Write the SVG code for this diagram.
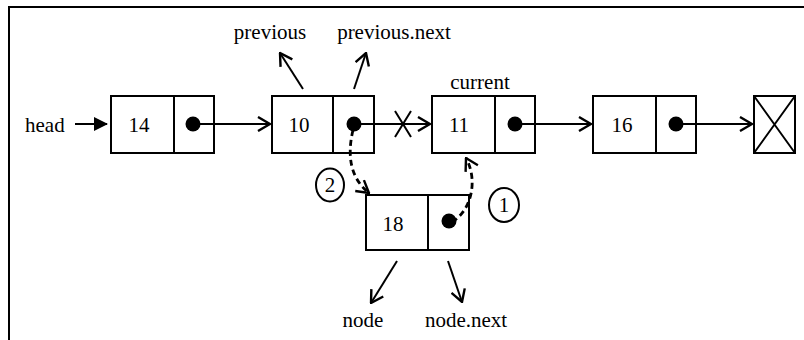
<svg xmlns="http://www.w3.org/2000/svg" width="804" height="340" viewBox="0 0 804 340">
<defs>
<style>
.box{fill:#fff;stroke:#000;stroke-width:2}
.ln{fill:none;stroke:#000;stroke-width:2}
.dash{fill:none;stroke:#000;stroke-width:2.8;stroke-dasharray:6,4}
.t{font-family:"Liberation Serif","Times New Roman",serif;font-size:21px;fill:#000}
.tc{text-anchor:middle}
</style>
<marker id="open" viewBox="0 0 14 16" refX="13" refY="8" markerWidth="14" markerHeight="16" markerUnits="userSpaceOnUse" orient="auto">
<path d="M1,1 L13,8 L1,15" fill="none" stroke="#000" stroke-width="2.4"/>
</marker>
<marker id="fill" viewBox="0 0 14 14" refX="13" refY="7" markerWidth="14" markerHeight="14" markerUnits="userSpaceOnUse" orient="auto">
<path d="M0,0 L14,7 L0,14 Z" fill="#000"/>
</marker>
</defs>
<rect width="804" height="340" fill="#fff"/>
<path d="M9,340 V7 H804" fill="none" stroke="#000" stroke-width="2"/>
<text class="t" x="25" y="132">head</text>
<g id="n14"><rect class="box" x="111" y="96" width="103" height="57"/><line class="ln" x1="174" y1="96" x2="174" y2="153"/><text class="t tc" x="139" y="132">14</text><circle cx="193" cy="124" r="7.5"/></g>
<g id="n10"><rect class="box" x="272" y="96" width="102" height="57"/><line class="ln" x1="333" y1="96" x2="333" y2="153"/><text class="t tc" x="299" y="132">10</text><circle cx="354" cy="124" r="7.5"/></g>
<g id="n11"><rect class="box" x="432" y="96" width="103" height="57"/><line class="ln" x1="495" y1="96" x2="495" y2="153"/><text class="t tc" x="459" y="132">11</text><circle cx="515" cy="124" r="7.5"/></g>
<g id="n16"><rect class="box" x="593" y="96" width="103" height="57"/><line class="ln" x1="656" y1="96" x2="656" y2="153"/><text class="t tc" x="622" y="132">16</text><circle cx="676" cy="124" r="7.5"/></g>
<g id="null"><rect class="box" x="754" y="96" width="41" height="57"/><path class="ln" d="M754,96 L795,153 M795,96 L754,153" stroke-width="1.3"/></g>
<g id="n18"><rect class="box" x="366" y="195" width="103" height="55"/><line class="ln" x1="428" y1="195" x2="428" y2="250"/><text class="t tc" x="393" y="231">18</text><circle cx="449" cy="221" r="7.5"/></g>
<g id="labels">
<text class="t tc" x="270" y="39">previous</text>
<text class="t tc" x="394" y="39">previous.next</text>
<text class="t tc" x="480" y="89">current</text>
<text class="t tc" x="363" y="327">node</text>
<text class="t tc" x="466" y="327">node.next</text>
<ellipse class="ln" cx="330" cy="185" rx="14" ry="16.5" stroke-width="1.3"/>
<text class="t tc" x="330" y="192">2</text>
<ellipse class="ln" cx="504" cy="205" rx="15" ry="17" stroke-width="1.3"/>
<text class="t tc" x="504" y="212">1</text>
</g>
<g id="connectors">
<line class="ln" x1="75" y1="124" x2="107" y2="124" stroke-width="2.8" marker-end="url(#fill)"/>
<line class="ln" x1="193" y1="124" x2="270" y2="124" marker-end="url(#open)"/>
<line class="ln" x1="354" y1="124" x2="430" y2="124" marker-end="url(#open)"/>
<path class="ln" d="M395,111 L411,137 M411,111 L395,137"/>
<line class="ln" x1="515" y1="124" x2="591" y2="124" marker-end="url(#open)"/>
<line class="ln" x1="676" y1="124" x2="752" y2="124" marker-end="url(#open)"/>
<line class="ln" x1="303" y1="89" x2="280" y2="53" marker-end="url(#open)"/>
<line class="ln" x1="354" y1="89" x2="366" y2="53" marker-end="url(#open)"/>
<path class="dash" d="M353,130 C347,155 350,178 369,193" marker-end="url(#open)"/>
<path class="dash" d="M452,222 C472,210 478,180 466,158" marker-end="url(#open)"/>
<line class="ln" x1="397" y1="261" x2="371" y2="303" marker-end="url(#open)"/>
<line class="ln" x1="448" y1="261" x2="462" y2="302" marker-end="url(#open)"/>
</g>
</svg>
